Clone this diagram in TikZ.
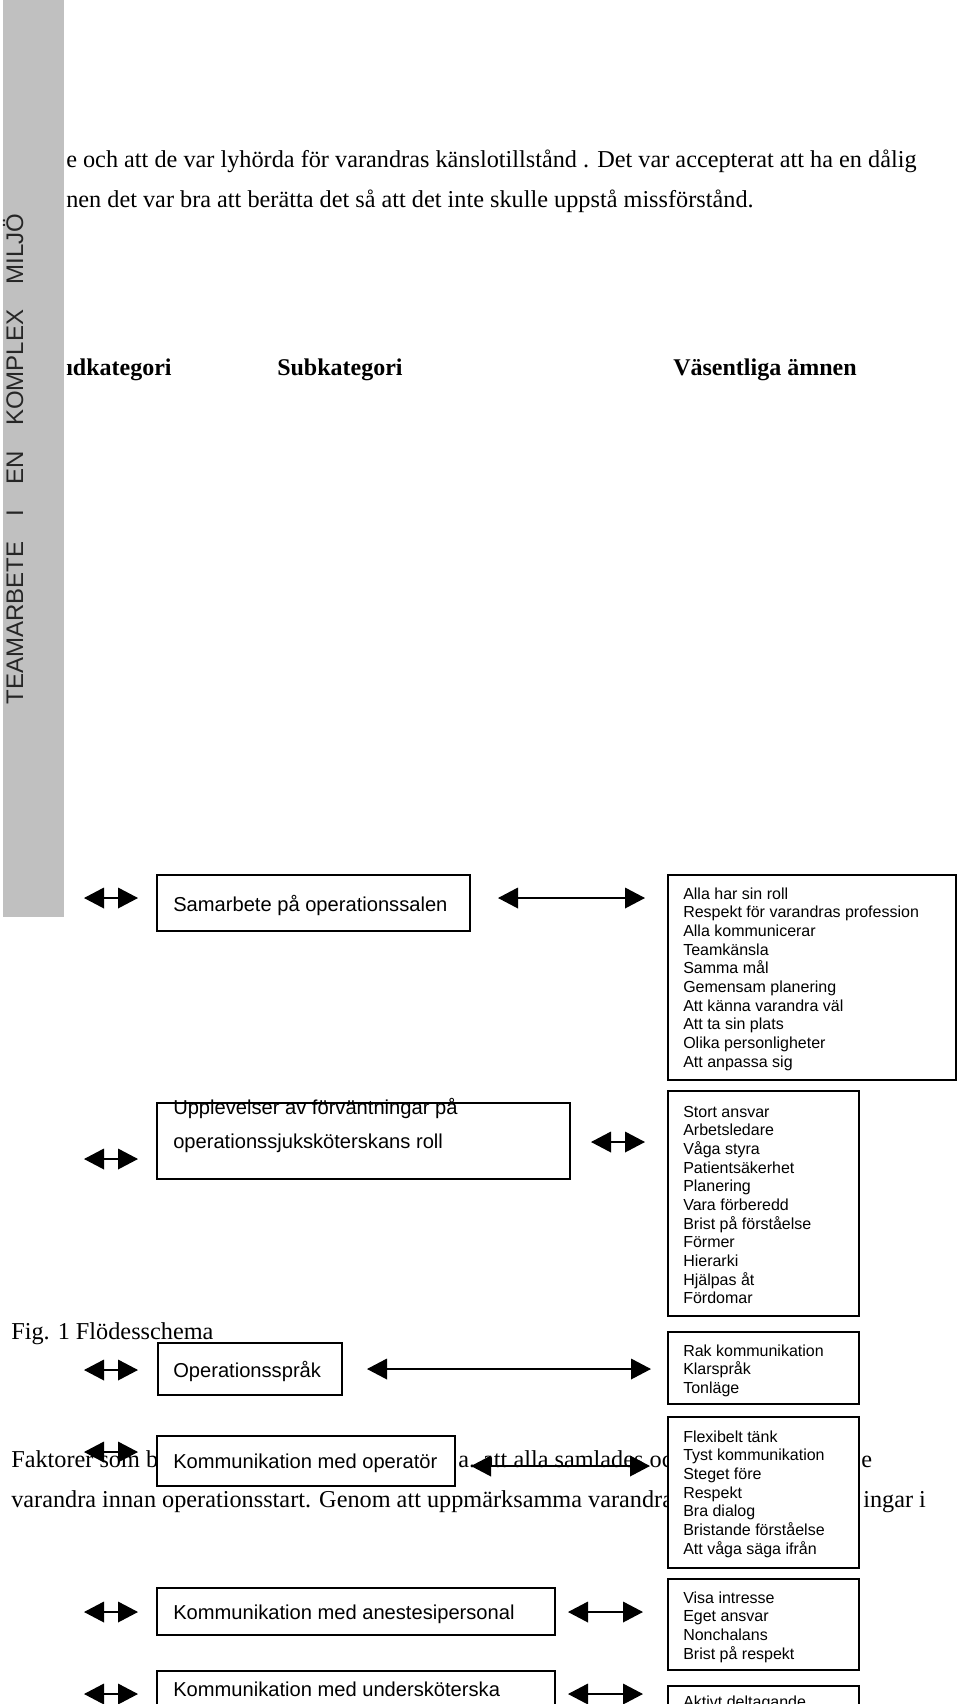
\documentclass[tikz,border=0pt]{standalone}
\usepackage{fontspec}
\setmainfont{Liberation Serif}
\newfontfamily\arialf{Liberation Sans}
\usetikzlibrary{arrows.meta}
\definecolor{bargray}{RGB}{192,192,192}
\begin{document}
\begin{tikzpicture}[x=0.75pt,y=-0.75pt,
  body/.style={font=\fontsize{18.2}{20}\selectfont, inner sep=0pt, anchor=base west},
  hdr/.style={font=\fontsize{18}{20}\selectfont\bfseries, inner sep=0pt, anchor=base west},
  box/.style={draw, line width=1.1pt, fill=white, inner sep=0pt},
  subtxt/.style={font=\arialf\fontsize{15.1}{17}\selectfont, inner sep=0pt, anchor=base west},
  lst/.style={font=\arialf\fontsize{12}{14}\selectfont, inner sep=0pt, anchor=north west, align=left},
  sidetxt/.style={font=\arialf\fontsize{18}{20}\selectfont, text=black!85, inner sep=0pt, rotate=90, anchor=base},
  dbl/.style={line width=1pt, {Triangle[length=15pt,width=15.5pt]}-{Triangle[length=15pt,width=15.5pt]}},
]
\useasboundingbox (0,0) rectangle (960,1704);
\fill[white] (0,0) rectangle (960,1704);
% side bar
\fill[bargray] (3,0) rectangle (64,917);
\node[sidetxt] (side) at (23,459) {TEAMARBETE\hspace{14pt} I\hspace{14pt} EN\hspace{14pt} KOMPLEX\hspace{14pt} MILJÖ};
% body text
\node[body] (t1) at (66,167) {e och att de var lyhörda för varandras känslotillstånd . Det var accepterat att ha en dålig};
\node[body] (t2) at (66,207) {nen det var bra att berätta det så att det inte skulle uppstå missförstånd.};
\node[hdr] (h1) at (66,375) {ıdkategori};
\node[hdr] (h2) at (277,375) {Subkategori};
\node[hdr] (h3) at (673,375) {Väsentliga ämnen};
\node[body] (fig) at (11,1339) {Fig. 1 Flödesschema};
\node[body] (b1a) at (11,1467) {Faktorer som b};
\node[body] (b1b) at (458,1467) {a. att alla samlades och};
\node[body] (b1c) at (861,1467) {e};
\node[body] (b2a) at (11,1507) {varandra innan operationsstart. Genom att uppmärksamma varandra};
\node[body] (b2b) at (863,1507) {ingar i};
% subcategory boxes
\node[box, minimum width=234.75pt, minimum height=42pt] (sub1) at (313.5,903) {};
\node[box, minimum width=309.75pt, minimum height=57pt] (sub2) at (363.5,1141) {};
\node[box, minimum width=138pt, minimum height=39pt] (sub3) at (250,1369) {};
\node[box, minimum width=223.5pt, minimum height=37.5pt] (sub4) at (306,1461) {};
\node[box, minimum width=298.5pt, minimum height=35.25pt] (sub5) at (356,1611.5) {};
\node[box, minimum width=298.5pt, minimum height=35.25pt] (sub6) at (356,1694.5) {};
\node[subtxt] (s1) at (173,911) {Samarbete på operationssalen};
\node[subtxt] (s2a) at (173,1114) {Upplevelser av förväntningar på};
\node[subtxt] (s2b) at (173,1148) {operationssjuksköterskans roll};
\node[subtxt] (s3) at (173,1377) {Operationsspråk};
\node[subtxt] (s4) at (173,1468) {Kommunikation med operatör};
\node[subtxt] (s5) at (173,1619) {Kommunikation med anestesipersonal};
\node[subtxt] (s6) at (173,1696) {Kommunikation med undersköterska};
% right boxes
\node[box, minimum width=216pt, minimum height=153.75pt] (rb1) at (812,977.5) {};
\node[box, minimum width=143.25pt, minimum height=168.75pt] (rb2) at (763.5,1203.5) {};
\node[box, minimum width=143.25pt, minimum height=54pt] (rb3) at (763.5,1368) {};
\node[box, minimum width=143.25pt, minimum height=113.25pt] (rb4) at (763.5,1492.5) {};
\node[box, minimum width=143.25pt, minimum height=68.25pt] (rb5) at (763.5,1624.5) {};
\node[box, minimum width=143.25pt, minimum height=75pt] (rb6) at (763.5,1736) {};
\node[lst] (l1) at (683,885.9) {\strut Alla har sin roll\\ \strut Respekt för varandras profession\\ \strut Alla kommunicerar\\ \strut Teamkänsla\\ \strut Samma mål\\ \strut Gemensam planering\\ \strut Att känna varandra väl\\ \strut Att ta sin plats\\ \strut Olika personligheter\\ \strut Att anpassa sig};
\node[lst] (l2) at (683,1103.9) {\strut Stort ansvar\\ \strut Arbetsledare\\ \strut Våga styra\\ \strut Patientsäkerhet\\ \strut Planering\\ \strut Vara förberedd\\ \strut Brist på förståelse\\ \strut Förmer\\ \strut Hierarki\\ \strut Hjälpas åt\\ \strut Fördomar};
\node[lst] (l3) at (683,1342.9) {\strut Rak kommunikation\\ \strut Klarspråk\\ \strut Tonläge};
\node[lst] (l4) at (683,1428.9) {\strut Flexibelt tänk\\ \strut Tyst kommunikation\\ \strut Steget före\\ \strut Respekt\\ \strut Bra dialog\\ \strut Bristande förståelse\\ \strut Att våga säga ifrån};
\node[lst] (l5) at (683,1589.9) {\strut Visa intresse\\ \strut Eget ansvar\\ \strut Nonchalans\\ \strut Brist på respekt};
\node[lst] (l6) at (683,1693.9) {\strut Aktivt deltagande};
% arrow end points
\coordinate (la1) at (84,898);   \coordinate (lb1) at (138,898);
\coordinate (la2) at (84,1159);  \coordinate (lb2) at (138,1159);
\coordinate (la3) at (84,1370);  \coordinate (lb3) at (138,1370);
\coordinate (la4) at (84,1452);  \coordinate (lb4) at (138,1452);
\coordinate (la5) at (84,1612);  \coordinate (lb5) at (138,1612);
\coordinate (la6) at (84,1694);  \coordinate (lb6) at (138,1694);
\coordinate (ra1) at (498,898);  \coordinate (rz1) at (645,898);
\coordinate (ra2) at (591,1142); \coordinate (rz2) at (645,1142);
\coordinate (ra3) at (367,1369); \coordinate (rz3) at (651,1369);
\coordinate (ra4) at (471,1466); \coordinate (rz4) at (650,1466);
\coordinate (ra5) at (568,1612); \coordinate (rz5) at (643,1612);
\coordinate (ra6) at (568,1694); \coordinate (rz6) at (643,1694);
\foreach \i in {1,...,6} {
  \draw[dbl] (la\i) -- (lb\i);
  \draw[dbl] (ra\i) -- (rz\i);
}
\end{tikzpicture}
\end{document}
